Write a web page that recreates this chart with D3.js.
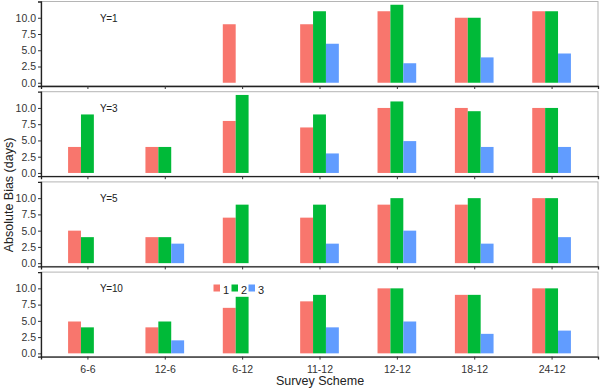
<!DOCTYPE html>
<html><head><meta charset="utf-8">
<script src="https://cdn.jsdelivr.net/npm/d3@7"></script>
<style>body{margin:0;background:#fff}svg{display:block}text{font-family:"Liberation Sans",Arial,sans-serif}</style>
</head><body><svg id="c" width="600" height="388"></svg>
<script>
const schemes = ["6-6","12-6","6-12","11-12","12-12","18-12","24-12"];
const seriesNames = ["1","2","3"];
const colors = ["#F8766D","#00BA38","#619CFF"];
const panelLabels = ["Y=1","Y=3","Y=5","Y=10"];
const yTicks = [0,2.5,5,7.5,10];
// values per panel: [series1, series2, series3] per scheme (null = missing)
const panelY1 = [[null,null,null],[null,null,null],[9,null,null],[9,11,6],[11,12,3],[10,10,3.9],[11,11,4.5]];
const panelY3 = [[4,9,null],[4,4,null],[8,12,null],[7,9,3],[10,11,4.9],[10,9.5,4],[10,10,4]];
const panelY5 = [[5,4,null],[4,4,3],[7,9,null],[7,9,3],[9,10,5],[9,10,3],[10,10,4]];
const panelY10 = [[4.9,4,null],[4,4.9,2],[7,8.7,null],[8,9,4],[10,10,4.9],[9,9,3],[10,10,3.5]];
const panels = [panelY1,panelY3,panelY5,panelY10];

const svg = d3.select("#c");
const left = 41, right = 598;
const tops = [1.5, 91.7, 181.9, 272.1];
const ph = 84.5;

const x = d3.scalePoint().domain(schemes).range([left,right]).padding(0.6);
const groupW = x.step()*0.5;
const xs = d3.scaleBand().domain(seriesNames).range([-groupW/2, groupW/2]).padding(0);

panels.forEach((pdata, pi) => {
  const top = tops[pi], bottom = top + ph;
  const y = d3.scaleLinear().domain([-0.5,12.5]).range([bottom, top]);
  const g = svg.append("g");
  // frame
  g.append("rect").attr("x",left).attr("y",top).attr("width",right-left).attr("height",ph)
    .attr("fill","#fff").attr("stroke","#b5b5b5").attr("stroke-width",1);
  // bars
  pdata.forEach((vals, si) => {
    vals.forEach((v, k) => {
      if (v == null) return;
      g.append("rect")
        .attr("x", x(schemes[si]) + xs(seriesNames[k]))
        .attr("width", xs.bandwidth())
        .attr("y", y(v))
        .attr("height", y(0) - y(v))
        .attr("fill", colors[k]);
    });
  });
  // y axis
  const ya = g.append("g").attr("transform",`translate(${left},0)`)
    .call(d3.axisLeft(y).tickValues(yTicks).tickFormat(d3.format(".1f")).tickSize(3).tickPadding(2));
  ya.select(".domain").attr("stroke","#222").attr("stroke-width",1.3);
  ya.selectAll(".tick line").attr("stroke","#333");
  ya.selectAll("text").attr("font-size","10.5px").attr("fill","#333");
  // x axis
  const xa = g.append("g").attr("transform",`translate(0,${bottom})`)
    .call(d3.axisBottom(x).tickSize(3).tickPadding(6));
  xa.select(".domain").attr("stroke","#222").attr("stroke-width",1.3);
  xa.selectAll(".tick line").attr("stroke","#333");
  xa.selectAll("text").attr("font-size","10.5px").attr("fill","#333");
  if (pi < panels.length-1) xa.selectAll("text").remove();
  // panel label
  g.append("text").attr("x",100).attr("y",y(10)+4).attr("font-size","10px").attr("fill","#222")
    .attr("letter-spacing","-0.3px").text(panelLabels[pi]);
});

// legend in last panel
const lg = svg.append("g");
const legX = [213.5, 231.5, 248.5];
seriesNames.forEach((s,i)=>{
  lg.append("rect").attr("x",legX[i]).attr("y",284.5).attr("width",6.5).attr("height",7).attr("fill",colors[i]);
  lg.append("text").attr("x",legX[i]+9.5).attr("y",294).attr("font-size","11px").attr("fill","#222").text(s);
});

// axis titles
svg.append("text").attr("x",320).attr("y",385).attr("text-anchor","middle").attr("font-size","12.5px").attr("fill","#222").text("Survey Scheme");
svg.append("text").attr("transform","translate(13,195) rotate(-90)").attr("text-anchor","middle").attr("font-size","12.5px").attr("fill","#222").text("Absolute Bias (days)");
</script></body></html>
